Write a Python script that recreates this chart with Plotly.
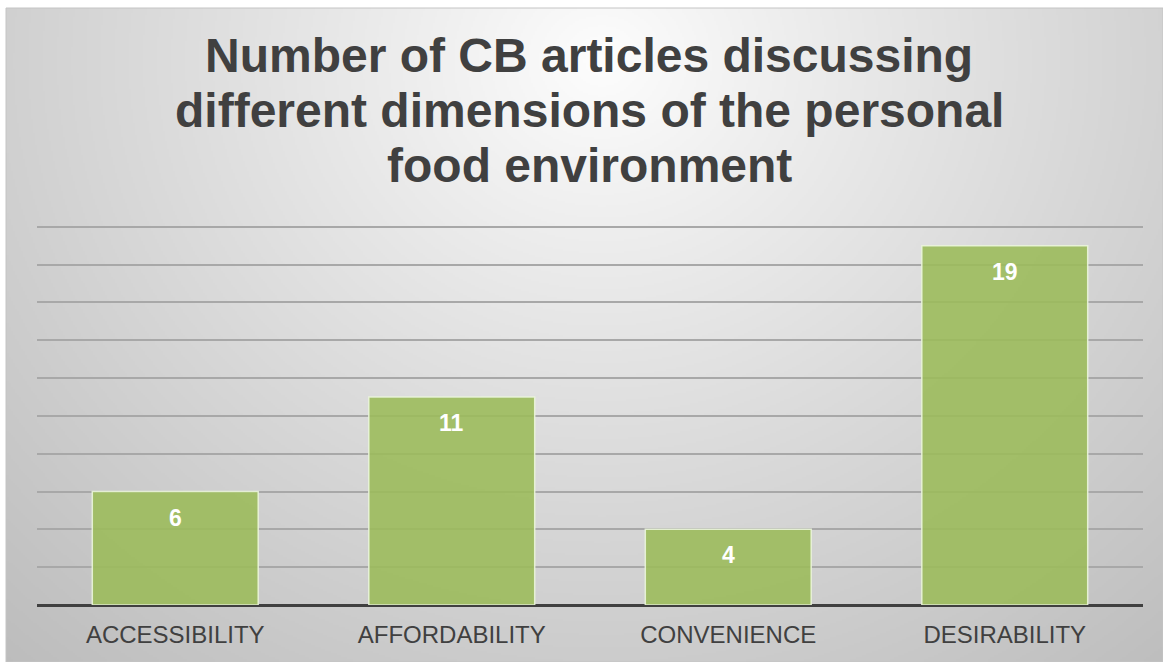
import base64
import struct
import zlib

import numpy as np
import plotly.graph_objects as go

# Chart data
categories = ["ACCESSIBILITY", "AFFORDABILITY", "CONVENIENCE", "DESIRABILITY"]
article_counts = [6, 11, 4, 19]
title_lines = [
    "Number of CB articles discussing",
    "different dimensions of the personal",
    "food environment",
]

W, H = 1163, 662
Y_MAX = 20.2
FRAME = (6, 8, 1163, 662)  # left, top, right, bottom of the chart frame in px
PLOT = (37, 223, 1143, 605)  # plot area in px
TITLE_BASELINES = [73, 128, 183]  # px from top, one per title line

FONT = "Liberation Sans, Arial, sans-serif"


def png_data_uri(arr):
    """Encode an (h, w, 3) uint8 array as a PNG data URI."""
    h, w, _ = arr.shape
    raw = b"".join(b"\x00" + arr[r].tobytes() for r in range(h))

    def chunk(tag, data):
        c = struct.pack(">I", len(data)) + tag + data
        return c + struct.pack(">I", zlib.crc32(tag + data) & 0xFFFFFFFF)

    png = b"\x89PNG\r\n\x1a\n"
    png += chunk(b"IHDR", struct.pack(">IIBBBBB", w, h, 8, 2, 0, 0, 0))
    png += chunk(b"IDAT", zlib.compress(raw, 9))
    png += chunk(b"IEND", b"")
    return "data:image/png;base64," + base64.b64encode(png).decode()


# Radial grey gradient for the chart background
fw, fh = FRAME[2] - FRAME[0], FRAME[3] - FRAME[1]
gw, gh = fw // 2, fh // 2
yy, xx = np.mgrid[0:gh, 0:gw]
px = xx * 2.0 + FRAME[0]
py = yy * 2.0 + FRAME[1]
cx, cy = 600.0, 60.0
d = np.sqrt((px - cx) ** 2 + ((py - cy) * 1.1) ** 2)
t = np.clip(d / 900.0, 0, 1) ** 0.9
v = (254 - 66 * t).astype(np.uint8)
grad = np.stack([v, v, v], axis=-1)
bg_uri = png_data_uri(grad)

pw, ph = PLOT[2] - PLOT[0], PLOT[3] - PLOT[1]


def to_paper_x(x):
    return (x - PLOT[0]) / pw


def to_paper_y(y):
    return (PLOT[3] - y) / ph


fig = go.Figure()

fig.add_trace(
    go.Bar(
        x=categories,
        y=article_counts,
        width=0.6,
        marker=dict(
            color="rgba(155,187,89,0.88)",
            line=dict(color="rgba(235,245,220,0.9)", width=1.5),
        ),
        hoverinfo="x+y",
    )
)

# Value labels just inside the top of each bar
for cat, val in zip(categories, article_counts):
    fig.add_annotation(
        x=cat,
        y=val,
        text=f"<b>{val}</b>",
        showarrow=False,
        yanchor="top",
        yshift=-11,
        font=dict(family=FONT, size=23, color="white"),
    )

# Title, one line per annotation for tight line spacing
for line, base in zip(title_lines, TITLE_BASELINES):
    fig.add_annotation(
        xref="paper",
        yref="paper",
        x=to_paper_x(589),
        y=to_paper_y(base + 11),
        xanchor="center",
        yanchor="bottom",
        showarrow=False,
        text=f"<b>{line}</b>",
        font=dict(family=FONT, size=48, color="#404040"),
    )

fig.add_layout_image(
    dict(
        source=bg_uri,
        xref="paper",
        yref="paper",
        x=to_paper_x(FRAME[0]),
        y=to_paper_y(FRAME[1]),
        sizex=fw / pw,
        sizey=fh / ph,
        xanchor="left",
        yanchor="top",
        sizing="stretch",
        layer="below",
    )
)

# Thin frame border
fig.add_shape(
    type="rect",
    xref="paper",
    yref="paper",
    x0=to_paper_x(FRAME[0]),
    y0=to_paper_y(FRAME[3]),
    x1=to_paper_x(FRAME[2]),
    y1=to_paper_y(FRAME[1]),
    line=dict(color="#c4c4c4", width=1),
    layer="below",
)

fig.update_layout(
    width=W,
    height=H,
    margin=dict(l=PLOT[0], r=W - PLOT[2], t=PLOT[1], b=H - PLOT[3], pad=0),
    paper_bgcolor="white",
    plot_bgcolor="rgba(0,0,0,0)",
    showlegend=False,
    bargap=0.4,
    font=dict(family=FONT, color="#404040"),
)

fig.update_xaxes(
    showgrid=False,
    showline=False,
    ticks="outside",
    ticklen=8,
    tickcolor="rgba(0,0,0,0)",
    tickfont=dict(size=24, color="#404040"),
    fixedrange=True,
)

fig.update_yaxes(
    range=[0, Y_MAX],
    dtick=2,
    tick0=0,
    showticklabels=False,
    showgrid=True,
    gridcolor="#a8a8a8",
    gridwidth=1.5,
    zeroline=True,
    zerolinecolor="#404040",
    zerolinewidth=3,
    showline=False,
    fixedrange=True,
)

fig.write_html("out.html")
